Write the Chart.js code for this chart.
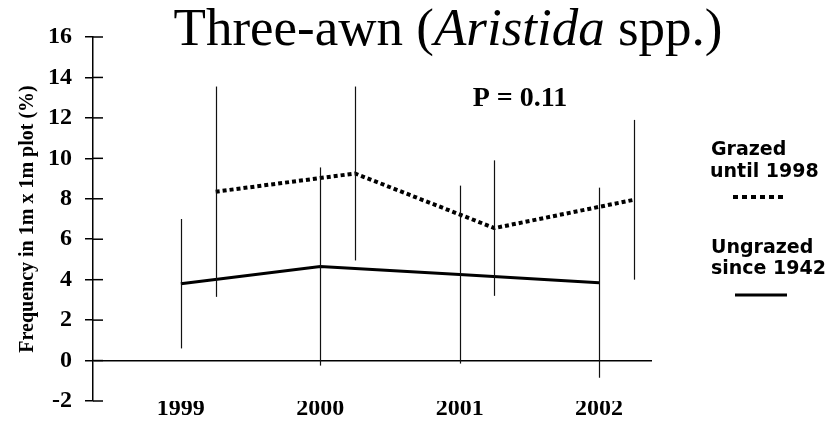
<!DOCTYPE html>
<html>
<head>
<meta charset="utf-8">
<script src="https://cdn.jsdelivr.net/npm/chart.js@4.4.1/dist/chart.umd.min.js"></script>
<style>
  html, body { margin: 0; padding: 0; background: #fff; }
  #wrap { width: 833px; height: 422px; }
</style>
</head>
<body>
<div id="wrap"><canvas id="chart" width="833" height="422"></canvas></div>
<script>
/***** Data *****/
const years = [1999, 2000, 2001, 2002];
const yearLabels = ["1999", "2000", "2001", "2002"];

// Ungrazed since 1942 (solid line), plotted on the year
const ungrazedMean = [3.8, 4.65, 4.25, 3.85];
const ungrazedErr = [3.2, 4.9, 4.4, 4.7];

// Grazed until 1998 (dotted line), plotted just after the year
const grazedMean = [8.35, 9.25, 6.55, 7.95];
const grazedErr = [5.2, 4.3, 3.35, 3.95];

const yMin = -2;
const yMax = 16;
const yStep = 2;

const grazedShift = 0.25;

const serif = "'Liberation Serif', 'Times New Roman', serif";
const sans = "'DejaVu Sans', Arial, sans-serif";

// Build the point lists from the arrays above
const toPoints = (means, shift) =>
  means.map((v, i) => ({ x: years[i] + shift, y: v }));

/***** Plugins *****/
// Vertical error bars drawn through the chart scales
const errorBars = {
  id: "errorBars",
  afterDatasetsDraw: (chart) => {
    const { ctx } = chart;
    const xs = chart.scales.x;
    const ys = chart.scales.y;
    ctx.save();
    ctx.strokeStyle = "#111";
    ctx.lineWidth = 1.2;
    chart.data.datasets.forEach((ds) => {
      ds.data.forEach((p, i) => {
        const e = ds.errors[i];
        const px = Math.round(xs.getPixelForValue(p.x)) + 0.5;
        ctx.beginPath();
        ctx.moveTo(px, ys.getPixelForValue(p.y + e));
        ctx.lineTo(px, ys.getPixelForValue(p.y - e));
        ctx.stroke();
      });
    });
    ctx.restore();
  },
};

// Tick marks that cross the y axis, plus title, P value and legend
const decorations = {
  id: "decorations",
  afterDraw: (chart) => {
    const { ctx } = chart;
    const ys = chart.scales.y;
    ctx.save();

    // inner half of the y tick marks
    ctx.strokeStyle = "#000";
    ctx.lineWidth = 1.5;
    ys.ticks.forEach((t) => {
      const py = ys.getPixelForValue(t.value);
      ctx.beginPath();
      ctx.moveTo(ys.right, py);
      ctx.lineTo(ys.right + 10, py);
      ctx.stroke();
    });

    // title with italic genus name
    ctx.fillStyle = "#000";
    ctx.textBaseline = "alphabetic";
    ctx.textAlign = "left";
    const parts = [
      { text: "Three-awn (", font: "53px " + serif },
      { text: "Aristida", font: "italic 53px " + serif },
      { text: " spp.)", font: "53px " + serif },
    ];
    let total = 0;
    parts.forEach((p) => {
      ctx.font = p.font;
      p.w = ctx.measureText(p.text).width;
      total += p.w;
    });
    let tx = 448 - total / 2;
    parts.forEach((p) => {
      ctx.font = p.font;
      ctx.fillText(p.text, tx, 45);
      tx += p.w;
    });

    // P value
    ctx.font = "bold 28px " + serif;
    ctx.textAlign = "center";
    ctx.fillText("P = 0.11", 520, 106);

    // legend
    ctx.textAlign = "left";
    ctx.font = "bold 19px " + sans;
    ctx.fillText("Grazed", 711, 155);
    ctx.fillText("until 1998", 710, 177);
    ctx.fillText("Ungrazed", 711, 253);
    ctx.fillText("since 1942", 711, 274);

    ctx.lineWidth = 4;
    ctx.setLineDash([5, 4]);
    ctx.beginPath();
    ctx.moveTo(733, 197);
    ctx.lineTo(785, 197);
    ctx.stroke();

    ctx.setLineDash([]);
    ctx.lineWidth = 3;
    ctx.beginPath();
    ctx.moveTo(735, 295);
    ctx.lineTo(787, 295);
    ctx.stroke();

    ctx.restore();
  },
};

/***** Chart *****/
const chartData = {
  datasets: [
    {
      label: "Grazed until 1998",
      data: toPoints(grazedMean, grazedShift),
      errors: grazedErr,
      borderColor: "#000",
      borderWidth: 4,
      borderDash: [4, 3],
      pointRadius: 0,
      tension: 0,
      showLine: true,
    },
    {
      label: "Ungrazed since 1942",
      data: toPoints(ungrazedMean, 0),
      errors: ungrazedErr,
      borderColor: "#000",
      borderWidth: 3,
      pointRadius: 0,
      tension: 0,
      showLine: true,
    },
  ],
};

new Chart(document.querySelector("#chart"), {
  type: "scatter",
  data: chartData,
  plugins: [errorBars, decorations],
  options: {
    responsive: false,
    animation: false,
    events: [],
    layout: { padding: { top: 37, right: 181, left: 0, bottom: 0 } },
    plugins: {
      legend: { display: false },
      tooltip: { enabled: false },
    },
    scales: {
      x: {
        type: "linear",
        min: 1998.37,
        max: 2002.38,
        afterBuildTicks: (scale) => {
          scale.ticks = years.map((v) => ({ value: v }));
        },
        afterFit: (scale) => {
          scale.height = 21;
          scale.paddingLeft = 0;
          scale.paddingRight = 0;
        },
        grid: { display: false },
        border: { display: false },
        ticks: {
          padding: -15,
          color: "#000",
          font: { family: serif, size: 24, weight: "bold" },
          callback: (v) => yearLabels[years.indexOf(v)],
          maxRotation: 0,
          autoSkip: false,
        },
      },
      y: {
        min: yMin,
        max: yMax,
        afterFit: (scale) => {
          scale.width = 93;
          scale.paddingTop = 0;
          scale.paddingBottom = 0;
        },
        ticks: {
          stepSize: yStep,
          padding: 13,
          color: "#000",
          font: { family: serif, size: 24, weight: "bold" },
        },
        grid: {
          drawOnChartArea: true,
          color: (c) => (c.tick && c.tick.value === 0 ? "#000" : "rgba(0,0,0,0)"),
          tickColor: "#000",
          tickLength: 8,
          lineWidth: 1.5,
        },
        border: { display: true, color: "#000", width: 1.5 },
        title: {
          display: true,
          text: "Frequency in 1m x 1m plot (%)",
          color: "#000",
          font: { family: serif, size: 20, weight: "bold" },
          padding: { top: 16, bottom: 0 },
        },
      },
    },
  },
});
</script>
</body>
</html>
